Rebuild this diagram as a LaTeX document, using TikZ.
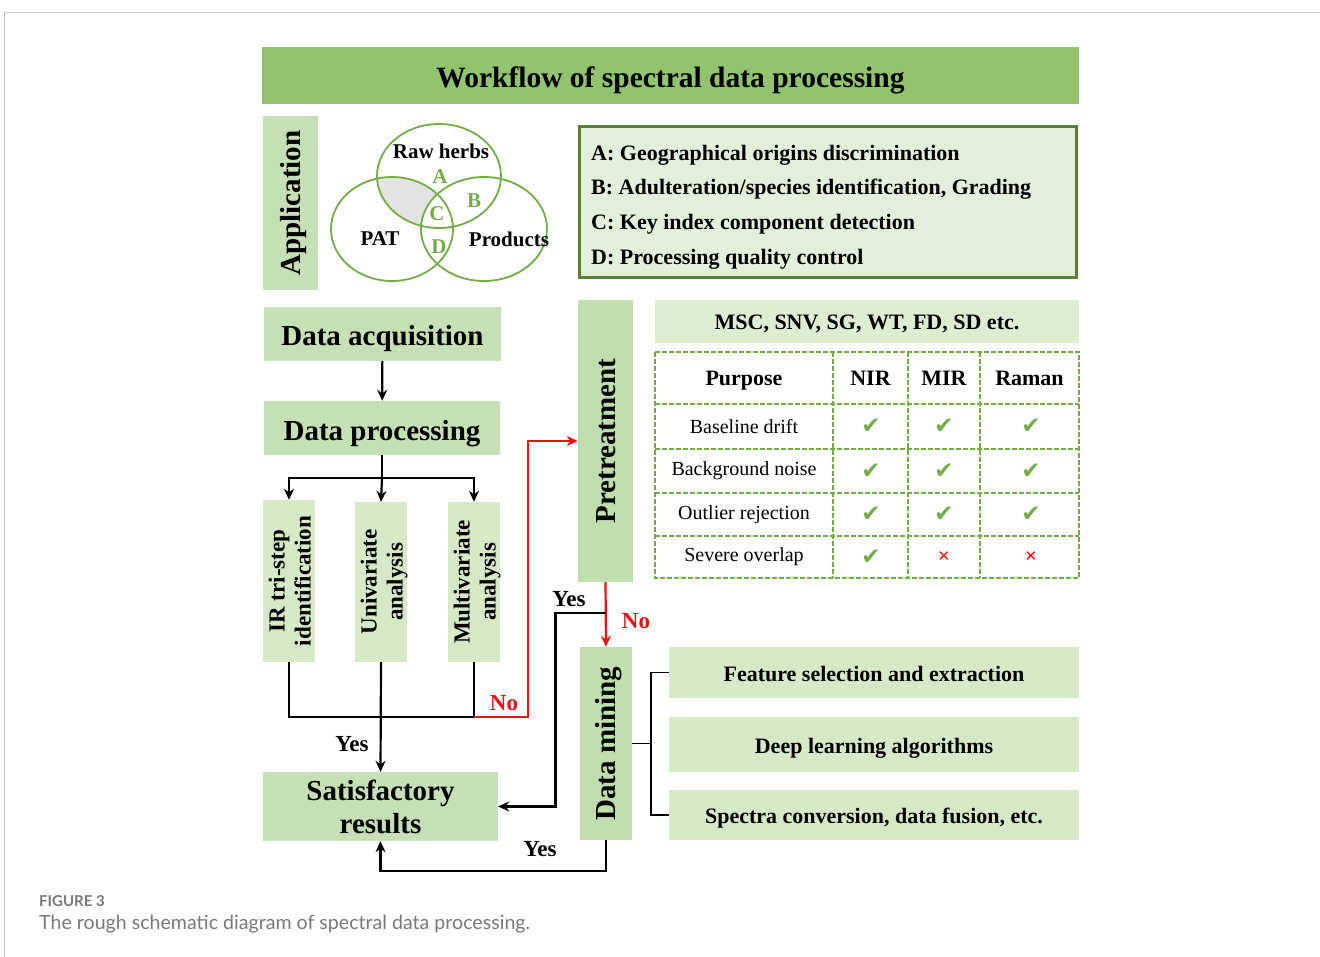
\documentclass[tikz,border=0pt]{standalone}
\usepackage{fontspec}
\setmainfont{Liberation Serif}
\newfontfamily\capfont{Lato}
\newfontfamily\symfont{DejaVu Sans}
\usetikzlibrary{arrows.meta, positioning, calc}
\definecolor{titlegreen}{RGB}{146, 195, 110}
\definecolor{boxgreen}{RGB}{197, 224, 180}
\definecolor{softgreen}{RGB}{213, 233, 199}
\definecolor{palegreen}{RGB}{226, 240, 217}
\definecolor{linegreen}{RGB}{112, 173, 71}
\definecolor{framegreen}{RGB}{84, 130, 53}
\definecolor{nored}{RGB}{230, 20, 20}
\definecolor{capgray}{RGB}{120, 120, 120}
\definecolor{framegray}{RGB}{200, 200, 200}
\newcommand{\vtext}[2][0pt]{\rotatebox{90}{\raisebox{-#1}[\height][\depth]{\begin{tabular}{@{}c@{}}#2\end{tabular}}}}
\newcommand{\chk}{{\symfont\color{linegreen}\fontsize{23}{23}\selectfont ✔}}
\newcommand{\crs}{{\symfont\color{red}\fontsize{15}{15}\selectfont ✕}}

\begin{document}
\begin{tikzpicture}[
  x=1pt, y=-1pt,
  box/.style={rectangle, fill=boxgreen, inner sep=0pt, align=center,
              font=\bfseries\fontsize{29}{33}\selectfont},
  oneline/.style={text height=24pt, text depth=0pt},
  vbox/.style={rectangle, fill=softgreen, inner sep=0pt, minimum width=52pt,
               font=\bfseries\fontsize{23}{26}\selectfont},
  branch/.style={rectangle, fill=softgreen, inner sep=0pt, minimum width=410pt,
                 text height=17pt, text depth=0pt,
                 font=\bfseries\fontsize{22}{26}\selectfont},
  lbl/.style={inner sep=0pt, font=\bfseries\fontsize{23}{23}\selectfont},
  venn/.style={draw=linegreen, line width=1.8pt},
  vlbl/.style={inner sep=0pt, font=\bfseries\fontsize{21}{21}\selectfont},
  grid/.style={draw=linegreen, line width=2pt, dash pattern=on 5pt off 2pt},
  head/.style={inner sep=0pt, text height=16pt, text depth=0pt,
               font=\bfseries\fontsize{22}{22}\selectfont},
  cell/.style={inner sep=0pt, font=\fontsize{20}{20}\selectfont},
  line/.style={line width=2.2pt},
  arr/.style={-{Stealth[length=11pt, width=10pt]}, line width=2.2pt},
  noarr/.style={-{Stealth[length=11pt, width=10pt]}, line width=2.2pt, nored}
]
  \useasboundingbox (0,0) rectangle (1320,957);
  \draw[framegray, line width=1pt] (1320,13) -- (4.5,13) -- (4.5,957);

  \node[box, oneline, fill=titlegreen, minimum width=817pt, minimum height=57pt,
        font=\bfseries\fontsize{29.5}{33}\selectfont] (title) at (670.5,75.5) {Workflow of spectral data processing};
  \node[box, minimum width=55pt, minimum height=174pt] (app) at (290.5,203) {\vtext[3.5pt]{Application}};

  % venn of the application fields
  \begin{scope}
    \clip (439,176) ellipse [x radius=62pt, y radius=52pt];
    \clip (392,229) ellipse [x radius=61pt, y radius=52pt];
    \fill[gray!22] (300,100) rectangle (560,300);
    \fill[white] (484,229) ellipse [x radius=63pt, y radius=52pt];
  \end{scope}
  \draw[venn] (439,176) ellipse [x radius=62pt, y radius=52pt];
  \draw[venn] (392,229) ellipse [x radius=61pt, y radius=52pt];
  \draw[venn] (484,229) ellipse [x radius=63pt, y radius=52pt];
  \node[vlbl] (raw) at (441,151) {Raw herbs};
  \node[vlbl] (pat) at (380,239) {PAT};
  \node[vlbl] (prod) at (509,239) {Products};
  \node[vlbl, text=linegreen] (ra) at (440,177) {A};
  \node[vlbl, text=linegreen] (rb) at (474,201) {B};
  \node[vlbl, text=linegreen] (rc) at (437,214) {C};
  \node[vlbl, text=linegreen] (rd) at (439,247) {D};

  \node[draw=framegreen, line width=3pt, fill=palegreen, minimum width=497pt, minimum height=151pt] (usage) at (828,202) {};
  \node[anchor=west, inner sep=0pt, align=left, font=\bfseries\fontsize{22}{34.7}\selectfont] (usagetxt) at (591,207)
    {A: Geographical origins discrimination\\
     B: Adulteration/species identification, Grading\\
     C: Key index component detection\\
     D: Processing quality control};

  % main flow
  \node[box, oneline, minimum width=237pt, minimum height=54pt] (acq) at (382.5,334) {Data acquisition};
  \node[box, oneline, minimum width=236pt, minimum height=54pt] (proc) at (382,428) {Data processing};
  \node[vbox, minimum height=162pt] (ir) at (289,581) {\vtext[3.5pt]{IR tri-step\\identification}};
  \node[vbox, minimum height=160pt] (uni) at (381,582) {\vtext[3.5pt]{Univariate\\analysis}};
  \node[vbox, minimum height=160pt] (multi) at (474,582) {\vtext[3.5pt]{Multivariate\\analysis}};
  \node[box, minimum width=235pt, minimum height=69pt] (sat) at (380.5,806.5) {Satisfactory\\results};
  \node[box, fill=boxgreen!90!titlegreen, minimum width=55pt, minimum height=282pt] (pre) at (605.5,441) {\vtext[3.5pt]{Pretreatment}};
  \node[box, fill=boxgreen!90!titlegreen, minimum width=52pt, minimum height=193pt] (dm) at (606,743.5) {\vtext[3pt]{Data mining}};

  \node[branch, fill=softgreen!80!white, minimum width=424pt, minimum height=43pt] (msc) at (867,321.5) {MSC, SNV, SG, WT, FD, SD etc.};
  \node[branch, minimum height=51pt] (feat) at (874,672.5) {Feature selection and extraction};
  \node[branch, minimum height=55pt] (deep) at (874,744.5) {Deep learning algorithms};
  \node[branch, minimum height=50pt] (spec) at (874,815) {Spectra conversion, data fusion, etc.};

  % pretreatment table
  \draw[grid] (655,352) rectangle (1079,578);
  \foreach \y in {404,449,493,536} \draw[grid] (655,\y) -- (1079,\y);
  \foreach \x in {833,908,980} \draw[grid] (\x,352) -- (\x,578);
  \foreach \x/\t [count=\i] in {744/Purpose, 870.5/NIR, 944/MIR, 1029.5/Raman}
    \node[head] (head\i) at (\x,378) {\t};
  \foreach \y/\t/\n/\m/\r [count=\i] in {426.5/Baseline drift/\chk/\chk/\chk,
      471/Background noise/\chk/\chk/\chk,
      514.5/Outlier rejection/\chk/\chk/\chk,
      557/Severe overlap/\chk/\crs/\crs} {
    \node[cell] (purp\i) at (744,\y) {\t};
    \node[cell] (nir\i) at (871,\y) {\n};
    \node[cell] (mir\i) at (944,\y) {\m};
    \node[cell] (ram\i) at (1031,\y) {\r};
  }

  % connectors
  \draw[arr] (acq) -- (proc);
  \draw[line] (proc.south) -- ++(0,23) coordinate (split);
  \draw[arr] (split) -| (ir.north);
  \draw[arr] (split) -| (multi.north);
  \draw[arr] (split) -- (uni.north);
  \coordinate (join) at (381,717);
  \draw[line] (ir.south) |- (join -| multi.south);
  \draw[line] (multi.south) -- (join -| multi.south);
  \draw[arr] (uni.south) -- (sat.north);
  \draw[noarr] (join -| multi.south) -- ++(54,0) |- (pre.west);
  \draw[noarr] (pre.south) -- (dm.north);
  \draw[arr] (pre.south) ++(0,31) -- ++(-50,0) |- (sat.east);
  \draw[arr] (dm.south) -- ++(0,31) -| (sat.south);
  \draw[line width=1.5pt] (dm.east) -- ++(19,0);
  \draw[line width=1.5pt] (feat.west) -- ++(-18,0) |- (spec.west);

  \node[lbl] (yes1) at (352,744) {Yes};
  \node[lbl, text=nored] (no1) at (504,703) {No};
  \node[lbl] (yes2) at (569,599) {Yes};
  \node[lbl, text=nored] (no2) at (636,621) {No};
  \node[lbl] (yes3) at (540,849) {Yes};

  % caption
  \node[anchor=west, inner sep=0pt, text=capgray, font=\capfont\bfseries\fontsize{15}{15}\selectfont] (fig) at (39,901) {FIGURE 3};
  \node[anchor=west, inner sep=0pt, text=capgray, font=\capfont\fontsize{19.6}{19.6}\selectfont] (cap) at (39,924) {The rough schematic diagram of spectral data processing.};
\end{tikzpicture}
\end{document}
